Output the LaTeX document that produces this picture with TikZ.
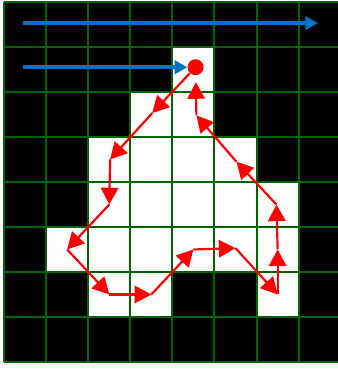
\documentclass[tikz,border=0pt]{standalone}
\usetikzlibrary{arrows.meta}
\definecolor{gridgreen}{RGB}{0,100,0}
\definecolor{scanblue}{RGB}{0,114,198}
\begin{document}
\begin{tikzpicture}[
    x=1.263cm, y=1.35cm,
    gridline/.style={draw=gridgreen, line width=0.06cm},
    objcell/.style={fill=white},
    scanarr/.style={-{Triangle[length=0.38cm, width=0.4cm]}, draw=scanblue, line width=0.12cm},
    tracearr/.style={-{Triangle[length=0.5cm, width=0.52cm]}, draw=red, line width=0.065cm},
    startdot/.style={circle, fill=red, inner sep=0pt, minimum size=0.48cm}
]

\useasboundingbox (-0.095,-0.156) rectangle (7.933,8.044);

%% Binary image: black background, white object cells %%
\fill[black] (0,0) rectangle (7.933,8);

% Object cells, row by row from the top
\fill[objcell] (4,6) rectangle (5,7);
\fill[objcell] (3,5) rectangle (5,6);
\fill[objcell] (2,4) rectangle (6,5);
\fill[objcell] (2,3) rectangle (7,4);
\fill[objcell] (1,2) rectangle (7,3);
\fill[objcell] (2,1) rectangle (4,2);
\fill[objcell] (6,1) rectangle (7,2);

\draw[gridline, step={(1,1)}] (0,0) grid (7.933,8);

%% Scan lines and start pixel %%
\node[startdot] (start) at (4.55,6.55) {};

\coordinate (scanA) at (0.45,7.53);
\coordinate (scanB) at (7.46,7.53);
\coordinate (scanC) at (0.45,6.55);

\draw[scanarr] (scanA) -- (scanB);
\draw[scanarr] (scanC) -- (start);

%% Boundary cells (cell centres) %%
\coordinate (b1)  at (3.52,5.53);
\coordinate (b2)  at (2.52,4.5);
\coordinate (b3)  at (2.5,3.5);
\coordinate (b4)  at (1.5,2.5);
\coordinate (b5)  at (2.5,1.5);
\coordinate (b6)  at (3.5,1.5);
\coordinate (b7)  at (4.5,2.5);
\coordinate (b8)  at (5.5,2.53);
\coordinate (b9)  at (6.5,1.5);
\coordinate (b10) at (6.5,2.5);
\coordinate (b11) at (6.47,3.5);
\coordinate (b12) at (5.52,4.45);
\coordinate (b13) at (4.57,5.48);

%% Contour trace %%
\draw[tracearr] (start) -- (b1);
\draw[tracearr] (b1)  -- (b2);
\draw[tracearr] (b2)  -- (b3);
\draw[tracearr] (b3)  -- (b4);
\draw[tracearr] (b4)  -- (b5);
\draw[tracearr] (b5)  -- (b6);
\draw[tracearr] (b6)  -- (b7);
\draw[tracearr] (b7)  -- (b8);
\draw[tracearr] (b8)  -- (b9);
\draw[tracearr] (b9)  -- (b10);
\draw[tracearr] (b10) -- (b11);
\draw[tracearr] (b11) -- (b12);
\draw[tracearr] (b12) -- (b13);
\draw[tracearr, shorten >=0.2cm] (b13) -- (start);

\end{tikzpicture}
\end{document}
